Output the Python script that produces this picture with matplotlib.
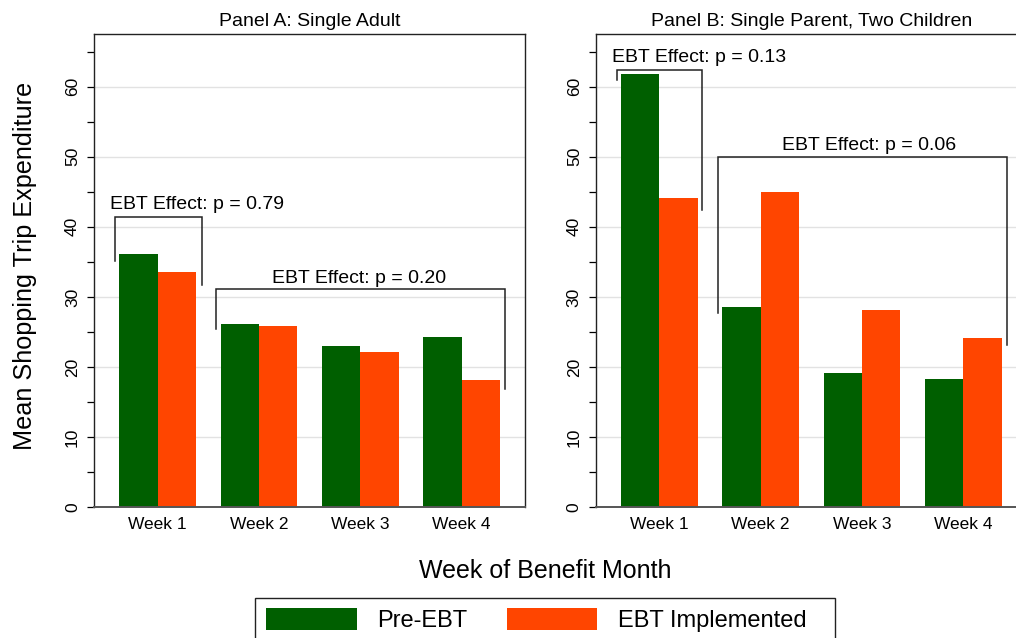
import matplotlib
matplotlib.use("Agg")
import matplotlib.pyplot as plt
from matplotlib.patches import Rectangle
import numpy as np

plt.rcParams['font.family'] = ['Liberation Sans', 'DejaVu Sans']

# Data
weeks = ["Week 1", "Week 2", "Week 3", "Week 4"]
panel_titles = ["Panel A: Single Adult", "Panel B: Single Parent, Two Children"]
pre_ebt_adult = [36.2, 26.2, 23.0, 24.3]
ebt_adult = [33.6, 25.8, 22.1, 18.2]
pre_ebt_parent = [61.8, 28.6, 19.2, 18.3]
ebt_parent = [44.1, 45.0, 28.2, 24.2]
effect_labels_adult = ["EBT Effect: p = 0.79", "EBT Effect: p = 0.20"]
effect_labels_parent = ["EBT Effect: p = 0.13", "EBT Effect: p = 0.06"]
series_names = ["Pre-EBT", "EBT Implemented"]

GREEN = "#005f00"
ORANGE = "#ff4500"
W, H = 1016, 638

fig = plt.figure(figsize=(W / 100, H / 100), dpi=100)

def px_box(left, top, right, bottom):
    return [left / W, 1 - bottom / H, (right - left) / W, (bottom - top) / H]

ax_a = fig.add_axes(px_box(94, 34, 525, 507.4))
ax_b = fig.add_axes(px_box(595.7, 34, 1026.7, 507.4))

# bracket layout: (x_left, x_right, y_top, y_left_end, y_right_end, text_x, text_y)
brackets_a = [
    (0.578, 1.44, 41.4, 35.1, 31.7, 0.529, 42.6),
    (1.573, 4.43, 31.1, 25.4, 16.9, 2.128, 32.0),
]
brackets_b = [
    (0.577, 1.417, 62.4, 60.9, 42.4, 0.528, 63.5),
    (1.575, 4.43, 49.9, 27.7, 23.2, 2.213, 50.9),
]

x = np.arange(1, len(weeks) + 1)
bw = 0.378

panels = [
    (ax_a, pre_ebt_adult, ebt_adult, effect_labels_adult, brackets_a, panel_titles[0]),
    (ax_b, pre_ebt_parent, ebt_parent, effect_labels_parent, brackets_b, panel_titles[1]),
]

handles = None
for ax, pre, post, labels, brk, title in panels:
    ax.set_axisbelow(True)
    b1 = ax.bar(x - bw / 2, pre, width=bw, color=GREEN, linewidth=0, zorder=2)
    b2 = ax.bar(x + bw / 2, post, width=bw, color=ORANGE, linewidth=0, zorder=2)
    handles = [b1, b2]
    ax.set_xlim(0.371, 4.626)
    ax.set_ylim(0, 67.5)
    ax.set_yticks(np.arange(0, 61, 10))
    ax.set_yticks(np.arange(5, 66, 10), minor=True)
    ax.tick_params(axis='y', which='both', length=5, width=0.9, pad=5,
                   labelsize=12.5, labelrotation=90, direction='out')
    for lab in ax.get_yticklabels():
        lab.set_va('center')
    ax.set_xticks(x)
    ax.set_xticklabels(weeks)
    ax.tick_params(axis='x', length=0, pad=7, labelsize=12.5)
    ax.yaxis.grid(True, which='major', color='#e2e2e2', linewidth=1.0)
    ax.xaxis.grid(False)
    for s in ax.spines.values():
        s.set_color('#222222')
        s.set_linewidth(1.0)
    ax.spines['bottom'].set_color('#555555')
    ax.spines['bottom'].set_linewidth(1.4)
    ax.set_title(title, fontsize=14, pad=6)

    for (xl, xr, yt, yl, yr, tx, ty), lab in zip(brk, labels):
        ax.plot([xl, xl, xr, xr], [yl, yt, yt, yr], color='#222222',
                linewidth=1.1, solid_joinstyle='miter', zorder=3)
        ax.text(tx, ty, lab, fontsize=14, ha='left', va='baseline', zorder=4)

fig.text(25 / W, 1 - 266 / H, "Mean Shopping Trip Expenditure", rotation=90,
         fontsize=18.2, ha='center', va='center')
fig.text(545 / W, 1 - 571 / H, "Week of Benefit Month", fontsize=18,
         ha='center', va='center')

# legend frame and entries
fig.patches.append(Rectangle((255.3 / W, 1 - 660 / H), (835 - 255.3) / W,
                             (660 - 598.4) / H, transform=fig.transFigure,
                             facecolor='white', edgecolor='#222222',
                             linewidth=1.0, zorder=1))
leg = fig.legend(handles, series_names, loc='upper left',
                 bbox_to_anchor=(266 / W, 1 - 608 / H), ncol=2, frameon=False,
                 fontsize=17, handlelength=3.84, handleheight=1.06,
                 handletextpad=0.86, columnspacing=1.67, borderpad=0,
                 borderaxespad=0)
leg.set_zorder(2)

fig.savefig("out.png", dpi=100, facecolor='white')
